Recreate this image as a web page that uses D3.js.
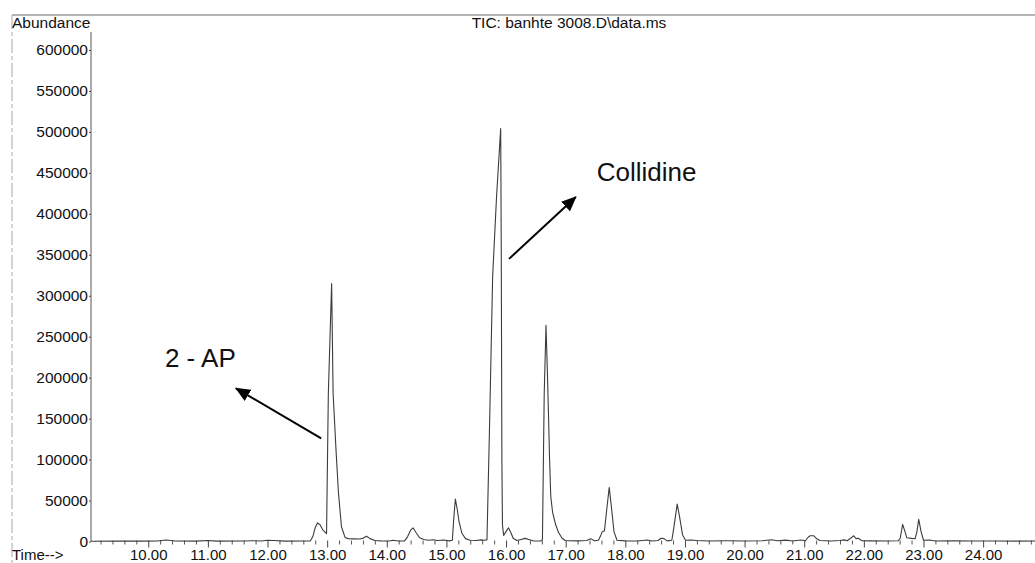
<!DOCTYPE html>
<html>
<head>
<meta charset="utf-8">
<script src="https://cdn.jsdelivr.net/npm/d3@7"></script>
<style>
  body { margin: 0; background: #fff; }
  svg { display: block; }
  text { font-family: "Liberation Sans", Arial, sans-serif; fill: #111; }
</style>
</head>
<body>
<svg id="chart" width="1035" height="563"></svg>
<script>
// Total ion chromatogram: [retention time (min), abundance]
const trace = [
  [9.04, 300], [9.5, 500], [9.9, 400], [10.15, 600], [10.3, 1800], [10.45, 700],
  [10.8, 500], [11.0, 1200], [11.15, 500], [11.6, 600], [11.75, 1000], [11.9, 600],
  [12.0, 1600], [12.1, 1200], [12.3, 500], [12.6, 600], [12.72, 800],
  [12.76, 6000], [12.8, 17000], [12.84, 22800], [12.88, 20500], [12.93, 14000],
  [12.99, 9700], [13.02, 181000], [13.075, 315000], [13.1, 181000], [13.15, 110000],
  [13.19, 59000], [13.24, 18000], [13.3, 5000], [13.35, 3500], [13.45, 3200],
  [13.55, 3000], [13.6, 4000], [13.66, 6500], [13.72, 3500], [13.8, 1200],
  [13.9, 800], [14.05, 700], [14.1, 1500], [14.2, 600], [14.3, 800],
  [14.35, 6000], [14.4, 14000], [14.44, 16700], [14.49, 11000], [14.55, 4500],
  [14.62, 2500], [14.7, 1500], [14.78, 2200], [14.85, 1200], [14.95, 1800],
  [15.05, 800], [15.1, 1500], [15.12, 25000], [15.15, 51800], [15.18, 40000],
  [15.21, 25000], [15.26, 10000], [15.32, 3500], [15.4, 1500], [15.5, 1200],
  [15.58, 2000], [15.64, 1500], [15.68, 2000],
  [15.72, 130000], [15.775, 323000], [15.84, 420000], [15.91, 504000],
  [15.92, 350000], [15.93, 100000], [15.94, 20000], [15.96, 7500], [16.0, 12000],
  [16.04, 16700], [16.08, 11000], [16.12, 4000], [16.18, 1200], [16.25, 2500],
  [16.32, 3800], [16.38, 2500], [16.45, 800], [16.58, 600], [16.61, 2000],
  [16.62, 60000], [16.64, 180000], [16.67, 264000], [16.69, 215000], [16.71, 160000],
  [16.73, 100000], [16.75, 55000], [16.78, 36000], [16.83, 21000], [16.88, 11000],
  [16.94, 4000], [16.99, 1200], [17.05, 1000], [17.2, 800], [17.35, 1200],
  [17.42, 3500], [17.48, 1000], [17.55, 1500], [17.58, 6000], [17.61, 11500],
  [17.65, 13000], [17.69, 40000], [17.73, 66000], [17.77, 40000], [17.81, 12000],
  [17.86, 1500], [18.0, 800], [18.2, 700], [18.37, 1800], [18.45, 700],
  [18.55, 1200], [18.6, 4000], [18.65, 3500], [18.7, 800], [18.78, 1500],
  [18.82, 20000], [18.87, 45700], [18.91, 30000], [18.96, 8000], [19.01, 1500],
  [19.1, 1800], [19.2, 1200], [19.4, 700], [19.7, 900], [20.0, 700], [20.3, 900],
  [20.45, 2200], [20.55, 900], [20.69, 1700], [20.8, 700], [20.95, 1800],
  [21.02, 900], [21.07, 5500], [21.1, 7000], [21.16, 7000], [21.2, 4000],
  [21.26, 1200], [21.45, 700], [21.6, 1200], [21.67, 2000], [21.72, 1000],
  [21.79, 4500], [21.83, 7000], [21.87, 3500], [21.91, 4000], [21.96, 1000],
  [22.1, 800], [22.4, 700], [22.58, 1000], [22.61, 4000], [22.65, 21000],
  [22.69, 12000], [22.72, 4500], [22.8, 3800], [22.86, 3500], [22.89, 12000],
  [22.92, 27000], [22.96, 12000], [23.0, 1500], [23.1, 1800], [23.2, 700],
  [23.5, 900], [23.8, 600], [24.2, 700], [24.6, 500], [24.87, 600]
];

const timeTicks = [10, 11, 12, 13, 14, 15, 16, 17, 18, 19, 20, 21, 22, 23, 24];
const abundanceTicks = [0, 50000, 100000, 150000, 200000, 250000, 300000,
                        350000, 400000, 450000, 500000, 550000, 600000];

const chartTitle = "TIC: banhte 3008.D\\data.ms";
const yTitle = "Abundance";
const xTitle = "Time-->";

// Compound labels and their pointer arrows, in data coordinates
const compoundLabels = [
  { text: "2 - AP", t: 10.28, a: 213000 },
  { text: "Collidine", t: 17.52, a: 440000 }
];
const pointerArrows = [
  { from: [12.90, 126000], to: [11.47, 187000] },
  { from: [16.05, 345000], to: [17.17, 420500] }
];

const svg = d3.select("#chart");
const W = 1035;
const labelBaseline = 559.5;

const x = d3.scaleLinear().domain([9.04, 24.87]).range([91, 1035]);
const y = d3.scaleLinear().domain([0, 600000]).range([541.5, 50]);

// Page frame (top rule and left margin line)
svg.append("line")
  .attr("x1", 12).attr("x2", W).attr("y1", 15).attr("y2", 15)
  .attr("stroke", "#6a6a6a").attr("stroke-width", 1);
svg.append("line")
  .attr("x1", 12).attr("x2", 12).attr("y1", 15).attr("y2", 563)
  .attr("stroke", "#a8a8a8").attr("stroke-width", 1)
  .attr("stroke-dasharray", "14,3,4,3");

// Titles
svg.append("text").attr("x", 569).attr("y", 28)
  .attr("text-anchor", "middle").attr("font-size", 15.5).text(chartTitle);
svg.append("text").attr("x", 12).attr("y", 28)
  .attr("font-size", 15.5).text(yTitle);
svg.append("text").attr("x", 12).attr("y", labelBaseline)
  .attr("font-size", 15).text(xTitle);

// Y axis
const yAxis = d3.axisLeft(y).tickValues(abundanceTicks).tickSize(2)
  .tickPadding(1).tickFormat(d3.format("d"));
const gy = svg.append("g").attr("transform", "translate(91,0)").call(yAxis);
gy.select(".domain").remove();
gy.selectAll("line").attr("stroke", "#444");
gy.selectAll("text").attr("font-size", 15.5).attr("fill", "#111")
  .attr("font-family", "Liberation Sans, Arial, sans-serif");
svg.append("line").attr("x1", 91).attr("x2", 91).attr("y1", 32).attr("y2", y(0))
  .attr("stroke", "#555").attr("stroke-width", 1);

// X axis: minor ticks every 0.2 min, labelled majors every minute
const minorTicks = d3.range(9.2, 24.87, 0.2).filter(v => Math.abs(v - Math.round(v)) > 0.05);
const gxMinor = svg.append("g").attr("transform", `translate(0,${y(0) - 1})`)
  .call(d3.axisBottom(x).tickValues(minorTicks).tickSize(4).tickFormat(""));
gxMinor.select(".domain").remove();
gxMinor.selectAll("line").attr("stroke", "#555");

const gx = svg.append("g").attr("transform", `translate(0,${y(0) - 1})`)
  .call(d3.axisBottom(x).tickValues(timeTicks).tickSize(7).tickFormat(d3.format(".2f")));
gx.select(".domain").remove();
gx.selectAll("line").attr("stroke", "#444");
gx.selectAll("text").attr("font-size", 15).attr("fill", "#111")
  .attr("font-family", "Liberation Sans, Arial, sans-serif")
  .attr("y", labelBaseline - (y(0) - 1)).attr("dy", 0);

// Chromatogram trace
const line = d3.line().x(d => x(d[0])).y(d => y(d[1]));
svg.append("path").datum(trace)
  .attr("d", line)
  .attr("fill", "none").attr("stroke", "#3c3c3c").attr("stroke-width", 1.1)
  .attr("stroke-linejoin", "round");

// Arrow marker
svg.append("defs").append("marker")
  .attr("id", "head").attr("markerUnits", "userSpaceOnUse")
  .attr("viewBox", "0 0 15 13").attr("refX", 14).attr("refY", 6.5)
  .attr("markerWidth", 15).attr("markerHeight", 13).attr("orient", "auto")
  .append("path").attr("d", "M0,0 L15,6.5 L0,13 Z").attr("fill", "#000");

svg.selectAll(".pointer").data(pointerArrows).enter().append("line")
  .attr("class", "pointer")
  .attr("x1", d => x(d.from[0])).attr("y1", d => y(d.from[1]))
  .attr("x2", d => x(d.to[0])).attr("y2", d => y(d.to[1]))
  .attr("stroke", "#000").attr("stroke-width", 2)
  .attr("marker-end", "url(#head)");

svg.selectAll(".compound").data(compoundLabels).enter().append("text")
  .attr("class", "compound")
  .attr("x", d => x(d.t)).attr("y", d => y(d.a))
  .attr("font-size", 26).attr("fill", "#000")
  .text(d => d.text);
</script>
</body>
</html>
